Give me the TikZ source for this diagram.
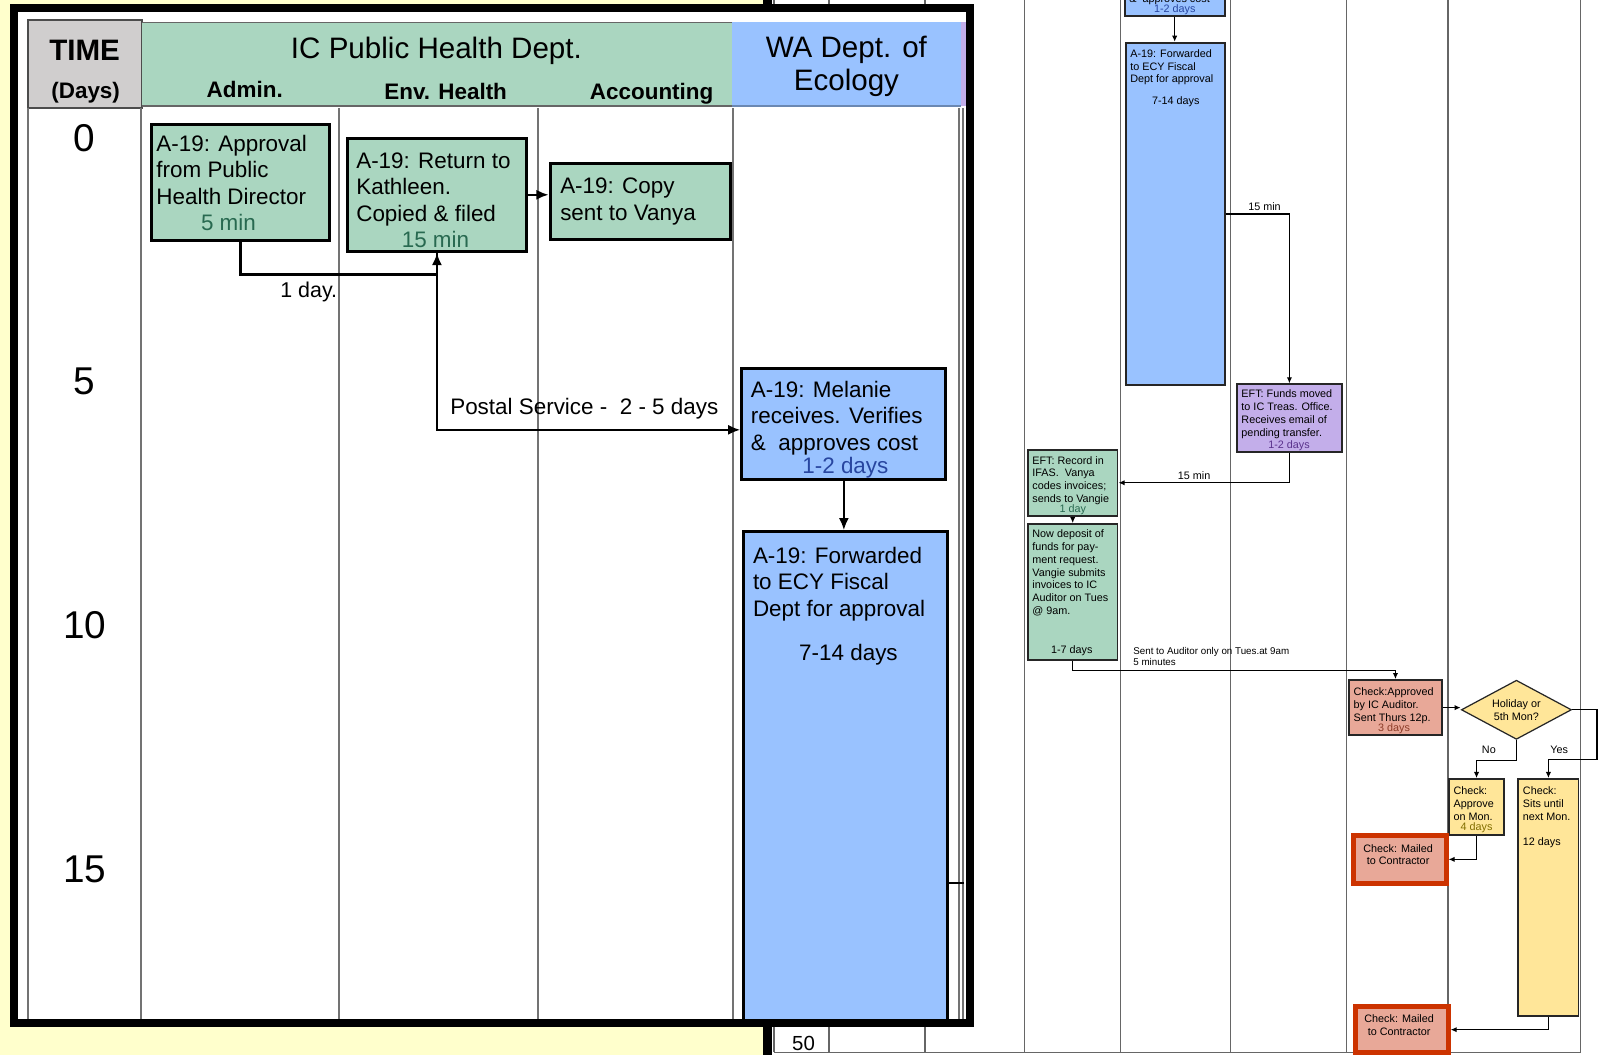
\documentclass[tikz,border=0pt]{standalone}
\usepackage{fontspec}
\setmainfont{Liberation Sans}
\usetikzlibrary{arrows.meta,shapes.geometric}
\definecolor{bgyellow}{RGB}{255,255,204}
\definecolor{timegray}{RGB}{208,206,206}
\definecolor{phgreen}{RGB}{170,214,192}
\definecolor{ecyblue}{RGB}{153,194,255}
\definecolor{eftpurple}{RGB}{195,174,234}
\definecolor{chksalmon}{RGB}{232,168,152}
\definecolor{holyellow}{RGB}{255,230,153}
\definecolor{mailred}{RGB}{204,51,0}
\definecolor{durgreen}{RGB}{40,105,80}
\definecolor{durblue}{RGB}{40,70,160}
\definecolor{durpurple}{RGB}{90,50,140}
\definecolor{dursalmon}{RGB}{140,60,40}
\definecolor{duryellow}{RGB}{130,110,0}
\begin{document}
\begin{tikzpicture}[x=0.5pt,y=-0.5pt,
  lbox/.style={draw=black,line width=1.5pt,anchor=north west,inner sep=0pt},
  rbox/.style={draw=black!85,line width=0.9pt,anchor=north west,inner sep=0pt},
  mailbox/.style={draw=mailred,line width=2.2pt,fill=chksalmon,anchor=north west,inner sep=0pt,minimum width=45.5pt},
  txt/.style={anchor=north west,inner sep=0pt,align=left,font=\fontsize{11}{13}\selectfont},
  stxt/.style={anchor=north west,inner sep=0pt,align=left,font=\fontsize{5.3}{6.3}\selectfont},
  dur/.style={inner sep=0pt,font=\fontsize{11}{13}\selectfont},
  sdur/.style={inner sep=0pt,font=\fontsize{5.3}{6.3}\selectfont},
  conn/.style={line width=1.2pt,-{Latex[length=6pt,width=5pt]}},
  sconn/.style={line width=0.6pt,-{Latex[length=3pt,width=2.6pt]}},
  lane/.style={draw=black!55,line width=1pt},
  gridline/.style={draw=black!60,line width=0.6pt}]
\useasboundingbox (0,0) rectangle (1568,1035);
\clip (0,0) rectangle (1568,1035);
\fill[bgyellow] (0,0) rectangle (1568,1035);
% full chart behind the inset
\fill[white] (757,0) rectangle (1568,1035);
\fill[black] (748,0) rectangle (757,1035);
\foreach \gx in {759,813,907,1005,1099,1207,1320,1420,1550}
  \draw[gridline] (\gx,0) -- (\gx,1032);
\draw[gridline] (759,1032) -- (1550,1032);
\node[font=\fontsize{10}{12}\selectfont] (day50) at (788,1023) {50};
\node[rbox,fill=ecyblue,minimum width=49pt,minimum height=27.5pt] (melS) at (1102,-40) {};
\node[stxt] (melSt) at (1107,-31) {A-19: Melanie\\receives. Verifies\\\&~ approves cost};
\node[sdur,text=durblue] (melSd) at (1152,10) {1-2 days};
\node[rbox,fill=ecyblue,minimum width=48.5pt,minimum height=168pt] (fwdS) at (1103,41) {};
\node[stxt] (fwdSt) at (1108,48) {A-19: Forwarded\\to ECY Fiscal\\Dept for approval};
\node[sdur] (fwdSd) at (1153,100) {7-14 days};
\node[rbox,fill=eftpurple,minimum width=51.5pt,minimum height=33pt] (funds) at (1212,376) {};
\node[stxt] (fundst) at (1217,382) {EFT: Funds moved\\to IC Treas. Office.\\Receives email of\\pending transfer.};
\node[sdur,text=durpurple] (fundsd) at (1264,437) {1-2 days};
\node[rbox,fill=phgreen,minimum width=44pt,minimum height=32.5pt] (ifas) at (1007,440) {};
\node[stxt] (ifast) at (1012,447) {EFT: Record in\\IFAS.~ Vanya\\codes invoices;\\sends to Vangie};
\node[sdur,text=durgreen] (ifasd) at (1052,500) {1 day};
\node[rbox,fill=phgreen,minimum width=44pt,minimum height=66.5pt] (depo) at (1007,513) {};
\node[stxt] (depot) at (1012,519) {Now deposit of\\funds for pay-\\ment request.\\Vangie submits\\invoices to IC\\Auditor on Tues\\@ 9am.};
\node[sdur] (depod) at (1051,638) {1-7 days};
\node[rbox,fill=chksalmon,minimum width=45.5pt,minimum height=27pt] (audit) at (1322,666) {};
\node[stxt] (auditt) at (1327,674) {Check:Approved\\by IC Auditor.\\Sent Thurs 12p.};
\node[sdur,text=dursalmon] (auditd) at (1367,715) {3 days};
\node[diamond,draw=black!85,line width=0.6pt,fill=holyellow,minimum width=54pt,minimum height=29pt,inner sep=0pt] (hol) at (1487,696) {};
\node[sdur,align=center] (holt) at (1487,696) {Holiday or\\5th Mon?};
\node[rbox,fill=holyellow,minimum width=27pt,minimum height=27.5pt] (mon) at (1420,763) {};
\node[stxt] (mont) at (1425,771) {Check:\\Approve\\on Mon.};
\node[sdur,text=duryellow] (mond) at (1448,812) {4 days};
\node[rbox,fill=holyellow,minimum width=29.5pt,minimum height=116pt] (sits) at (1488,763) {};
\node[stxt] (sitst) at (1493,771) {Check:\\Sits until\\next Mon.};
\node[sdur,anchor=west] (sitsd) at (1493,826) {12 days};
\node[mailbox,minimum height=23.5pt] (mail1) at (1325,817) {};
\node[sdur,align=center] (mail1t) at (1371,838) {Check: Mailed\\to Contractor};
\node[mailbox,minimum height=22.5pt] (mail2) at (1327,985) {};
\node[sdur,align=center] (mail2t) at (1372,1005) {Check: Mailed\\to Contractor};
\draw[sconn] (melS.south) -- (melS.south |- fwdS.north);
\draw[sconn] (fwdS.east) -| (funds.north);
\node[sdur] (t15a) at (1240,203) {15 min};
\draw[sconn] (funds.south) |- (ifas.east);
\node[sdur] (t15b) at (1171,466) {15 min};
\draw[sconn] (ifas.south) -- (ifas.south |- depo.north);
\draw[sconn] (depo.south) -- ++(0,10) -| (audit.north);
\node[stxt,font=\fontsize{4.8}{5.5}\selectfont] (sentlbl) at (1111,634) {Sent to Auditor only on Tues.at 9am\\5 minutes};
\draw[sconn] (audit.east) -- (audit.east -| hol.west);
\draw[sconn] (hol.south) -- ++(0,20) -| (mon.north);
\node[sdur] (nolbl) at (1460,735) {No};
\coordinate (yesturn) at (1566,745);
\draw[sconn] (hol.east) -| (yesturn) -| (sits.north);
\node[sdur] (yeslbl) at (1529,735) {Yes};
\draw[sconn] (mon.south) |- (mail1.east);
\draw[sconn] (sits.south) |- (mail2.east);
% enlarged inset
\fill[white] (14,8) rectangle (951,1003);
\fill[timegray] (27,20) rectangle (139,106);
\draw[black!70,line width=1pt] (27,20) rectangle (139,106);
\fill[phgreen] (139,22) rectangle (718,104);
\draw[black!60,line width=0.6pt] (139,22) -- (718,22);
\draw[black!60,line width=1pt] (139,104) -- (718,104);
\fill[ecyblue] (718,22) rectangle (942,104);
\draw[ecyblue!70!black,line width=0.6pt] (718,104) -- (942,104);
\fill[eftpurple] (942,22) rectangle (947,104);
\node[anchor=base,font=\fontsize{14.5}{16}\bfseries] (timelbl) at (83,59) {TIME};
\node[anchor=base,font=\fontsize{11}{13}\bfseries] (dayslbl) at (84,97) {(Days)};
\node[anchor=base,font=\fontsize{14.5}{16}\selectfont] (phlbl) at (428,57) {IC Public Health Dept.};
\node[anchor=base,font=\fontsize{11}{13}\bfseries] (adminlbl) at (240,96) {Admin.};
\node[anchor=base,font=\fontsize{11}{13}\bfseries] (envlbl) at (437,98) {Env. Health};
\node[anchor=base,font=\fontsize{11}{13}\bfseries] (acclbl) at (639,98) {Accounting};
\node[align=center,inner sep=0pt,font=\fontsize{14.5}{16}\selectfont] (ecylbl) at (830,65) {WA Dept. of\\Ecology};
\foreach \lx in {27,138,332,528,719,940,944}
  \draw[lane] (\lx,106) -- (\lx,999);
\foreach \t/\ty in {0/135,5/374,10/613,15/852}
  \node[font=\fontsize{19}{22}\selectfont] (day\t) at (83,\ty) {\t};
\node[lbox,fill=phgreen,minimum width=87.5pt,minimum height=56.5pt] (appr) at (147,121) {};
\node[txt] (apprt) at (153,132) {A-19: Approval\\from Public\\Health Director};
\node[dur,text=durgreen] (apprd) at (224,218) {5 min};
\node[lbox,fill=phgreen,minimum width=88pt,minimum height=55.5pt] (ret) at (339,134) {};
\node[txt] (rett) at (349,149) {A-19: Return to\\Kathleen.\\Copied \& filed};
\node[dur,text=durgreen] (retd) at (427,235) {15 min};
\node[lbox,fill=phgreen,minimum width=88.5pt,minimum height=37pt] (copy) at (538,159) {};
\node[txt] (copyt) at (549,174) {A-19: Copy\\sent to Vanya};
\node[lbox,fill=ecyblue,minimum width=100pt,minimum height=54.5pt] (mel) at (726,360) {};
\node[txt] (melt) at (736,373) {A-19: Melanie\\receives. Verifies\\\&~ approves cost};
\node[dur,text=durblue] (meld) at (829,459) {1-2 days};
\node[lbox,fill=ecyblue,minimum width=100pt,minimum height=240pt] (fwd) at (728,520) {};
\node[txt] (fwdt) at (738,536) {A-19: Forwarded\\to ECY Fiscal\\Dept for approval};
\node[dur] (fwdd) at (832,642) {7-14 days};
\draw[conn] (ret.east) -- (ret.east -| copy.west);
\draw[conn] (appr.south) -- ++(0,32) -| (ret.south);
\node[dur,anchor=east,font=\fontsize{10.5}{12}\selectfont] (daylbl) at (331,286) {1 day.};
\draw[conn] (ret.south) |- ([yshift=-2.75pt]mel.west);
\node[dur] (postlbl) at (573,401) {Postal Service -~ 2 - 5 days};
\draw[conn] (mel.south) -- (mel.south |- fwd.north);
\coordinate (edge15) at (945,866);
\draw[line width=1pt] (fwd.east |- edge15) -- (edge15);
\draw[line width=4pt] (14,8) rectangle (951,1003);
\end{tikzpicture}
\end{document}
